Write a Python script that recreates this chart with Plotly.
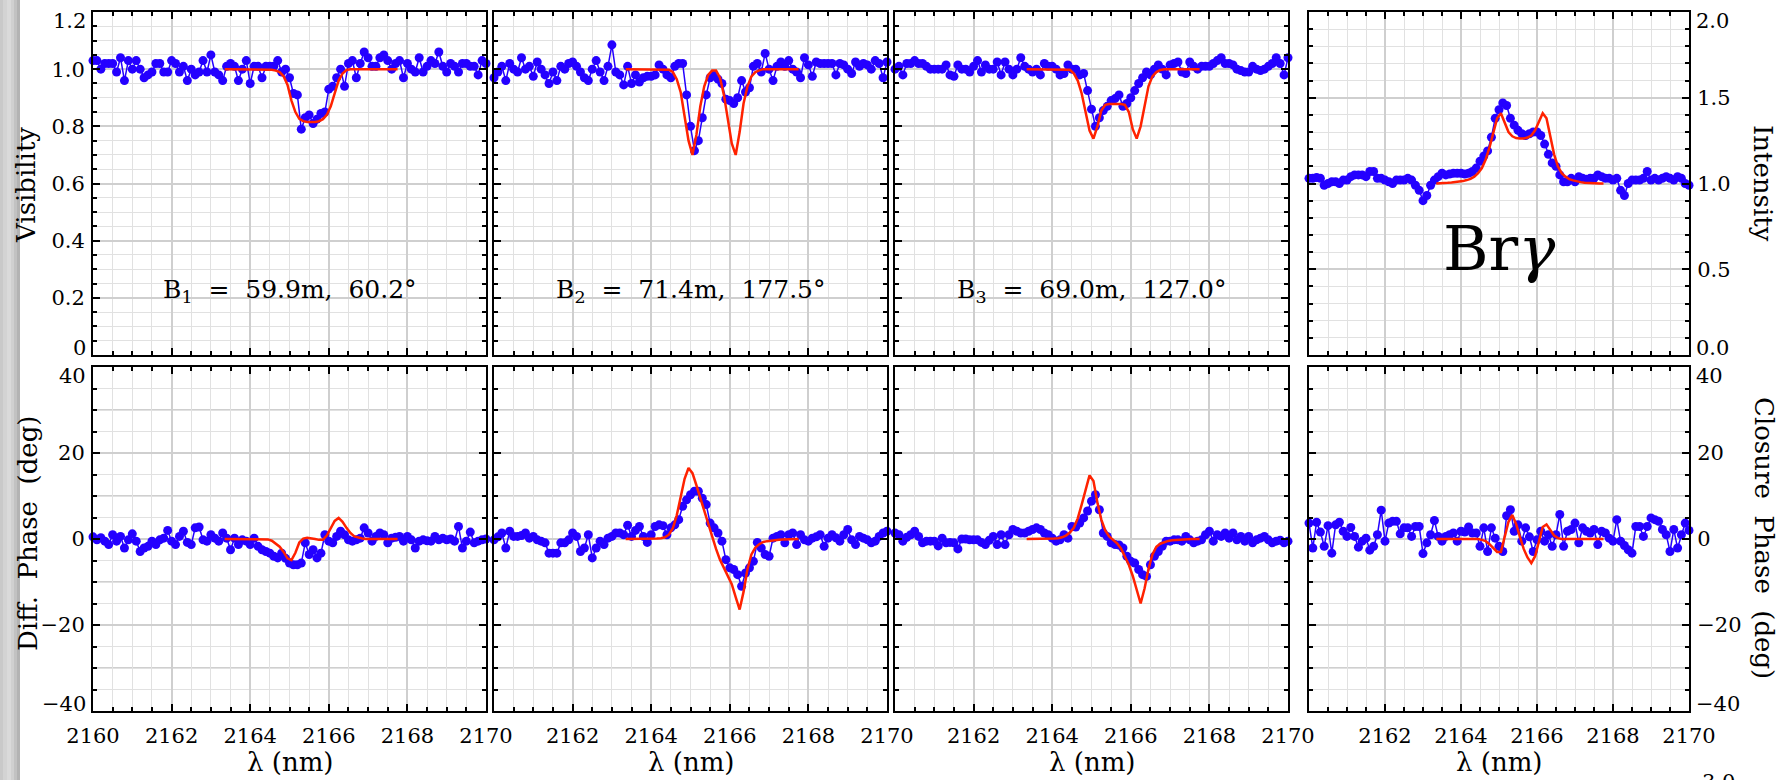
import plotly.graph_objects as go

# ---------------- data ----------------
LAM = [round(2160 + 0.1 * i, 2) for i in range(101)]          # observed wavelength grid (nm)
LAM_MODEL = [round(2163.35 + 0.1 * k, 2) for k in range(45)]  # model wavelength grid (nm)

VIS_B1 = [1.03, 1.03, 1.00, 1.02, 1.02, 1.02, 0.99, 1.04, 0.96, 1.03,
          1.00, 1.03, 1.00, 0.97, 0.98, 0.99, 1.02, 1.02, 0.99, 0.99,
          1.03, 1.02, 0.99, 1.01, 0.96, 1.00, 0.98, 0.99, 1.03, 0.99,
          1.05, 0.99, 0.98, 0.96, 1.01, 1.02, 1.01, 0.96, 1.00, 1.03,
          0.95, 1.01, 1.01, 0.97, 1.01, 1.01, 1.01, 1.03, 0.99, 1.00,
          0.97, 0.915, 0.91, 0.79, 0.83, 0.84, 0.81, 0.825, 0.845, 0.85,
          0.93, 0.94, 0.97, 1.00, 0.94, 1.02, 1.03, 0.97, 1.02, 1.06,
          1.04, 1.01, 1.01, 1.04, 1.05, 1.03, 1.00, 1.02, 1.03, 0.97,
          1.02, 1.00, 0.99, 1.04, 0.99, 1.01, 1.03, 1.02, 1.06, 1.01,
          0.99, 1.02, 1.01, 0.99, 1.02, 1.02, 1.01, 1.01, 0.98, 1.03, 1.02]
VIS_B2 = [0.97, 0.99, 1.01, 0.96, 1.02, 1.00, 0.99, 1.04, 1.00, 1.01,
          0.975, 1.025, 1.00, 0.98, 0.95, 0.99, 0.96, 1.01, 1.00, 1.02,
          1.025, 1.01, 0.99, 0.97, 0.96, 1.00, 1.03, 0.99, 0.96, 1.01,
          1.085, 0.99, 0.98, 0.945, 1.01, 0.95, 0.98, 0.955, 0.97, 0.975,
          0.975, 0.98, 1.015, 1.00, 0.98, 0.97, 1.01, 1.02, 1.02, 0.91,
          0.80, 0.715, 0.75, 0.83, 0.91, 0.97, 0.98, 0.965, 0.95, 0.895,
          0.89, 0.88, 0.90, 0.96, 0.92, 0.935, 1.01, 1.02, 0.99, 1.055,
          1.00, 0.96, 1.01, 1.025, 1.01, 1.03, 1.00, 0.99, 0.97, 1.04,
          1.015, 0.975, 1.025, 1.02, 1.02, 1.02, 1.02, 0.98, 1.02, 1.015,
          1.00, 0.985, 1.025, 1.01, 1.02, 1.015, 1.00, 1.03, 1.02, 0.97, 1.025]
VIS_B3 = [1.00, 1.01, 0.98, 1.02, 1.02, 1.03, 1.02, 1.02, 1.01, 1.00,
          1.00, 1.00, 1.00, 1.015, 0.98, 0.975, 1.015, 1.00, 1.00, 0.99,
          1.01, 1.03, 0.99, 1.015, 1.00, 1.00, 1.025, 0.98, 1.025, 1.00,
          0.98, 1.00, 1.04, 1.01, 1.00, 0.99, 1.00, 0.98, 1.02, 1.01,
          1.01, 1.00, 0.98, 0.985, 1.015, 1.00, 1.00, 0.98, 0.985, 0.925,
          0.86, 0.80, 0.83, 0.855, 0.87, 0.89, 0.897, 0.91, 0.87, 0.88,
          0.90, 0.925, 0.95, 0.97, 0.99, 0.98, 1.00, 1.015, 1.00, 0.98,
          1.015, 1.02, 1.025, 0.99, 0.985, 1.025, 1.01, 1.00, 1.01, 1.01,
          1.01, 1.02, 1.03, 1.04, 1.02, 1.02, 1.015, 1.00, 0.995, 0.99,
          0.99, 1.01, 1.00, 0.995, 1.00, 1.01, 1.02, 1.04, 1.02, 0.98, 1.04]
INTENSITY = [1.03, 1.03, 1.035, 1.03, 0.99, 1.00, 1.01, 1.01, 1.00, 1.02,
             1.02, 1.04, 1.05, 1.05, 1.05, 1.04, 1.07, 1.07, 1.03, 1.03,
             1.02, 1.01, 1.00, 1.02, 1.02, 1.02, 1.03, 1.02, 0.99, 0.96,
             0.90, 0.93, 0.99, 1.02, 1.04, 1.06, 1.05, 1.055, 1.06, 1.06,
             1.06, 1.055, 1.06, 1.07, 1.09, 1.13, 1.16, 1.19, 1.27, 1.38,
             1.43, 1.47, 1.455, 1.38, 1.34, 1.31, 1.29, 1.28, 1.29, 1.30,
             1.30, 1.28, 1.23, 1.17, 1.12, 1.10, 1.05, 1.01, 1.01, 1.03,
             1.01, 1.04, 1.03, 1.025, 1.03, 1.03, 1.05, 1.04, 1.03, 1.03,
             1.02, 1.03, 0.96, 0.93, 1.00, 1.02, 1.02, 1.02, 1.03, 1.07,
             1.02, 1.03, 1.02, 1.03, 1.04, 1.03, 1.02, 1.04, 1.03, 1.00, 0.99]
DPHI_B1 = [0.5, -0.2, 0.3, -0.5, -1.3, 1.0, -0.5, 0.6, -2.1, -0.2,
           1.2, -0.5, -2.9, -2.1, -1.7, -0.5, -1.3, -0.2, 0.2, 2.0,
           -0.5, -1.3, 0.6, 1.8, -0.8, -1.3, 2.6, 2.8, -0.2, -0.5,
           1.0, 0.2, -0.5, 1.4, 0.2, -2.5, 0.2, -1.3, -0.2, -0.5,
           -1.3, 0.2, -1.7, -2.5, -2.9, -3.3, -4.0, -4.4, -3.3, -4.5,
           -5.6, -6.0, -6.0, -5.6, -0.9, -3.6, -2.5, -4.4, -3.3, 1.0,
           -0.5, -0.9, 0.6, 1.8, 1.0, -0.2, -0.5, -0.2, 0.2, 2.6,
           1.4, -0.5, 0.6, 1.4, 1.0, -0.9, 0.2, 0.4, 0.6, -0.5,
           0.6, -0.2, -2.1, -0.5, -0.2, -0.4, -0.5, 0.6, -0.2, 0.2,
           -0.2, 0.0, -0.5, 2.9, -2.1, -0.5, 1.6, -0.9, -0.5, -0.2, 0.0]
DPHI_B2 = [-0.2, 0.5, 1.4, -2.1, 1.8, 0.6, 0.6, 0.8, 1.4, 0.2,
           0.6, -0.2, -0.5, -0.9, -3.3, -3.3, -3.3, -0.9, -0.9, -0.2,
           1.4, 0.6, -2.9, -2.1, 1.0, -4.4, -2.1, -0.5, -1.3, 0.2,
           0.6, 1.4, 1.4, 1.0, 3.2, 0.6, 2.0, 2.9, 0.6, -0.8,
           1.0, 2.9, 3.3, 3.1, 1.0, 2.6, 3.3, 4.5, 7.6, 9.1,
           10.3, 11.1, 11.1, 9.5, 8.0, 3.7, 2.6, 1.4, -0.5, -4.8,
           -6.7, -7.1, -8.3, -11.0, -7.9, -6.7, -5.2, -0.8, -2.1, -3.6,
           -4.0, 0.2, 0.6, 1.0, -0.9, 1.0, 1.4, -1.3, 1.0, -0.2,
           -0.5, 0.2, 0.5, 1.0, -1.7, 0.2, 1.0, 0.3, -0.5, 1.0,
           2.2, -0.2, -1.3, 0.6, 0.2, -0.2, -0.9, -0.5, 0.6, 1.4, 1.8]
DPHI_B3 = [1.4, 1.0, -0.5, 0.4, 1.0, 1.8, 0.6, -0.9, -0.5, -0.5,
           -0.5, -1.6, 0.2, -0.9, -0.8, -0.9, -2.3, 0.0, 0.0, -0.2,
           -0.2, -0.2, -0.8, -1.3, -0.3, 0.6, -1.3, 1.0, -1.3, 1.0,
           2.2, 1.8, 1.4, 1.4, 1.8, 2.2, 2.6, 2.2, 1.4, 1.0,
           0.2, -0.5, -0.2, 1.0, 0.2, 2.9, 2.8, 3.7, 4.9, 6.5,
           8.8, 10.3, 6.8, 1.4, 0.6, -0.9, -1.3, -1.4, -2.1, -4.0,
           -5.2, -5.6, -7.1, -8.3, -8.7, -6.0, -4.0, -2.9, -1.7, -0.5,
           -0.5, -0.2, -0.2, -0.5, 0.6, -0.2, -0.9, -0.5, -0.2, 1.0,
           1.8, -0.5, 1.0, 0.6, 1.4, 0.2, 1.4, -0.2, 0.6, -0.5,
           0.6, -0.9, -0.2, 0.2, 0.6, -0.2, -0.9, -0.5, -0.3, -0.9, -0.5]
CPHI = [3.7, -2.1, 3.9, 1.6, -1.7, 3.1, -3.3, 3.3, 3.9, 1.8,
        0.6, 2.7, 0.6, -1.9, -0.5, 0.2, -2.6, -1.7, 1.0, 6.7,
        -0.5, 3.7, 4.1, 4.1, 1.2, 2.6, 2.6, 0.6, 2.9, 2.9,
        -3.4, -0.9, 1.0, 4.3, 0.6, -0.5, 0.6, 1.0, 1.4, -0.5,
        1.8, 1.6, 2.8, 1.4, 1.4, -1.7, 2.6, -2.9, 2.6, 0.2,
        -1.7, -2.9, 5.4, 6.8, 1.8, 3.3, -0.5, 2.6, 0.5, -2.9,
        -0.2, 1.8, -0.5, 1.0, -1.7, 1.0, 5.7, -1.7, 1.8, 2.2,
        3.7, -0.9, 2.6, 1.8, 1.4, 2.2, -1.3, 1.8, 1.4, 0.2,
        -0.5, 4.5, -0.5, -1.5, -2.5, -3.3, 2.9, 2.9, 0.6, 2.9,
        4.9, 4.5, 4.1, 2.2, 1.0, -2.9, 2.2, -2.1, 1.0, 3.7, 2.0]

MODEL_VIS_B1 = [1.0] * 12 + [0.998, 0.995, 0.99, 0.975, 0.945, 0.89, 0.85, 0.826, 0.818,
                             0.815, 0.815, 0.815, 0.818, 0.825, 0.84, 0.87, 0.915, 0.96,
                             0.985, 0.997] + [1.0] * 13
MODEL_VIS_B2 = [1.0] * 11 + [0.998, 0.99, 0.965, 0.92, 0.84, 0.75, 0.70, 0.77, 0.87, 0.94,
                             0.98, 0.995, 0.995, 0.97, 0.91, 0.83, 0.74, 0.70, 0.78, 0.88,
                             0.94, 0.975, 0.99, 0.996] + [1.0] * 10
MODEL_VIS_B3 = [1.0] * 11 + [0.998, 0.985, 0.96, 0.915, 0.845, 0.785, 0.757, 0.80, 0.855,
                             0.875, 0.878, 0.878, 0.878, 0.878, 0.875, 0.85, 0.79, 0.757,
                             0.80, 0.875, 0.94, 0.975, 0.99, 0.997] + [1.0] * 10
MODEL_INTENSITY = [1.0, 1.0, 1.002, 1.004, 1.006, 1.008, 1.01, 1.014, 1.02, 1.027,
                   1.04, 1.06, 1.09, 1.14, 1.21, 1.30, 1.38, 1.41, 1.35, 1.30,
                   1.275, 1.265, 1.262, 1.262, 1.268, 1.28, 1.31, 1.36, 1.41, 1.38,
                   1.27, 1.17, 1.10, 1.06, 1.04, 1.025, 1.018, 1.012, 1.008, 1.005,
                   1.003, 1.002, 1.001, 1.0, 1.0]
MODEL_DPHI_B1 = [0.0] * 11 + [-0.1, -0.4, -1.0, -1.8, -3.0, -4.5, -4.9, -3.2, -0.8, 0.1,
                              0.3, 0.2, 0.0, -0.2, -0.2, 0.8, 2.6, 4.2, 4.9, 4.0,
                              2.6, 1.4, 0.6, 0.3, 0.1] + [0.0] * 9
MODEL_DPHI_B2 = [0.0] * 7 + [0.05, 0.1, 0.2, 0.4, 1.0, 2.5, 5.5, 10.2, 14.0, 16.5,
                             15.3, 12.5, 9.5, 6.6, 3.7, 0.6, -2.3, -4.8, -6.6, -8.4,
                             -10.5, -13.5, -16.4, -12.3, -7.0, -3.6, -2.0, -1.2, -0.7, -0.5,
                             -0.35, -0.25, -0.2, -0.1, -0.05, 0.0, 0.0, 0.0]
MODEL_DPHI_B3 = [0.0] * 7 + [0.1, 0.2, 0.4, 0.8, 1.5, 2.6, 4.8, 8.0, 11.5, 14.8,
                             13.5, 8.5, 4.5, 2.0, 0.6, -0.2, -1.0, -2.2, -4.0, -6.0,
                             -8.6, -12.0, -15.0, -11.5, -7.0, -3.6, -1.8, -1.1, -0.7, -0.45,
                             -0.3, -0.2, -0.15, -0.1, -0.05, 0.0, 0.0, 0.0]
MODEL_CPHI = [0.0] * 11 + [0.0, -0.2, -0.5, -1.2, -2.1, -3.0, -3.0, 0.5, 4.0, 5.6,
                           3.5, 0.5, -2.3, -4.3, -5.6, -4.0, -0.5, 2.8, 3.4, 2.0,
                           0.8, 0.2] + [0.0] * 12

for arr in (VIS_B1, VIS_B2, VIS_B3, INTENSITY, DPHI_B1, DPHI_B2, DPHI_B3, CPHI):
    assert len(arr) == len(LAM), len(arr)
for arr in (MODEL_VIS_B1, MODEL_VIS_B2, MODEL_VIS_B3, MODEL_INTENSITY,
            MODEL_DPHI_B1, MODEL_DPHI_B2, MODEL_DPHI_B3, MODEL_CPHI):
    assert len(arr) == len(LAM_MODEL), len(arr)

BASELINES = ["B<sub>1</sub>\u00a0 =\u00a0 59.9m,\u00a0 60.2°",
             "B<sub>2</sub>\u00a0 =\u00a0 71.4m,\u00a0 177.5°",
             "B<sub>3</sub>\u00a0 =\u00a0 69.0m,\u00a0 127.0°"]
X_TICKS = [2160, 2162, 2164, 2166, 2168, 2170]
VIS_TICKS = [0.2, 0.4, 0.6, 0.8, 1.0]
VIS_ENDS = [(0, "0"), (1.2, "1.2")]
INT_TICKS = [0.5, 1.0, 1.5]
INT_ENDS = [(0.0, "0.0"), (2.0, "2.0")]
PHASE_TICKS = [-20, 0, 20]
PHASE_ENDS = [(-40, "\u221240"), (40, "40")]
PHASE_GRID10 = [-30, -10, 10, 30]

# ---------------- layout geometry ----------------
W, H = 1783, 780
FONT = "DejaVu Serif"
BLUE = "#2400ff"
RED = "#ff2200"
COLS = [(93, 486), (494, 887), (895, 1288), (1309, 1689)]
ROWS = [(12, 355), (367, 711)]
TICK_FONT = dict(family=FONT, size=21, color="black")


def px(x):
    return x / W


def py(y):
    return 1 - y / H


fig = go.Figure()

panels = [
    (0, 0, VIS_B1, MODEL_VIS_B1), (0, 1, VIS_B2, MODEL_VIS_B2),
    (0, 2, VIS_B3, MODEL_VIS_B3), (0, 3, INTENSITY, MODEL_INTENSITY),
    (1, 0, DPHI_B1, MODEL_DPHI_B1), (1, 1, DPHI_B2, MODEL_DPHI_B2),
    (1, 2, DPHI_B3, MODEL_DPHI_B3), (1, 3, CPHI, MODEL_CPHI),
]

axis_common = dict(showline=True, linecolor="black", linewidth=2, mirror="ticks",
                   ticks="inside", tickcolor="black", tickwidth=2, ticklen=7,
                   showgrid=True, gridcolor="#cfcfcf", gridwidth=2, zeroline=False,
                   automargin=False, tickfont=TICK_FONT)

shapes = []
annotations = []

for n, (r, c, obs, mod) in enumerate(panels, start=1):
    xa = "x" if n == 1 else f"x{n}"
    ya = "y" if n == 1 else f"y{n}"
    fig.add_trace(go.Scatter(x=LAM, y=obs, mode="lines+markers", xaxis=xa, yaxis=ya,
                             line=dict(color=BLUE, width=1.5),
                             marker=dict(color=BLUE, size=9), cliponaxis=False,
                             showlegend=False))
    fig.add_trace(go.Scatter(x=LAM_MODEL, y=mod, mode="lines", xaxis=xa, yaxis=ya,
                             line=dict(color=RED, width=2.5), cliponaxis=False,
                             showlegend=False))

    x0, x1 = COLS[c]
    y0, y1 = ROWS[r]
    xt = X_TICKS if c == 0 else X_TICKS[1:]
    xcfg = dict(axis_common, domain=[px(x0), px(x1)], anchor=ya, range=[2160, 2170],
                tickmode="array", tickvals=xt, ticktext=[str(v) for v in xt],
                showticklabels=(r == 1), ticklabelstandoff=5,
                minor=dict(dtick=0.5, tick0=2160, ticks="inside", ticklen=4,
                           tickcolor="black", tickwidth=1.5, showgrid=True,
                           gridcolor="#e1e1e1", gridwidth=1))
    if r == 0 and c < 3:
        tv, ends, rng, mdt = VIS_TICKS, VIS_ENDS, [0, 1.2], 0.05
        tt = [f"{v:.1f}" for v in tv]
    elif r == 0:
        tv, ends, rng, mdt = INT_TICKS, INT_ENDS, [0, 2.0], 0.1
        tt = [f"{v:.1f}" for v in tv]
    else:
        tv, ends, rng, mdt = PHASE_TICKS, PHASE_ENDS, [-40, 40], 5
        tt = [("\u2212" + str(-v)) if v < 0 else str(v) for v in tv]
        for g in PHASE_GRID10:
            shapes.append(dict(type="line", xref=xa, yref=ya, x0=2160, x1=2170, y0=g, y1=g,
                               line=dict(color="#cfcfcf", width=2), layer="below"))
    labelled = (c == 0 or c == 3)
    ycfg = dict(axis_common, domain=[py(y1), py(y0)], anchor=xa, range=rng,
                tickmode="array", tickvals=tv, ticktext=tt,
                side="right" if c == 3 else "left",
                showticklabels=labelled, ticklabelstandoff=2,
                minor=dict(dtick=mdt, tick0=rng[0], ticks="inside", ticklen=4,
                           tickcolor="black", tickwidth=1.5, showgrid=True,
                           gridcolor="#e1e1e1", gridwidth=1))
    fig.layout["xaxis" if n == 1 else f"xaxis{n}"] = xcfg
    fig.layout["yaxis" if n == 1 else f"yaxis{n}"] = ycfg

    # end-of-range labels are kept inside the frame height (IDL style)
    if labelled:
        for val, txt in ends:
            top_end = (val == rng[1])
            ypix = (y0 + 9) if top_end else (y1 - 7)
            if c == 0:
                annotations.append(dict(text=txt, x=px(x0 - 5), y=py(ypix), xanchor="right"))
            else:
                annotations.append(dict(text=txt, x=px(x1 + 5), y=py(ypix), xanchor="left"))

for a in annotations:
    a.update(xref="paper", yref="paper", showarrow=False, yanchor="middle", font=TICK_FONT)

# baseline labels
for c, txt in enumerate(BASELINES):
    xa = "x" if c == 0 else f"x{c + 1}"
    ya = "y" if c == 0 else f"y{c + 1}"
    annotations.append(dict(text=txt, x=2165.0, y=0.225, xref=xa, yref=ya,
                            showarrow=False, xanchor="center", yanchor="middle",
                            font=dict(family=FONT, size=25, color="black")))
annotations.append(dict(text="Br<i>γ</i>", x=2165.0, y=0.62, xref="x4", yref="y4",
                        showarrow=False, xanchor="center", yanchor="middle",
                        font=dict(family=FONT, size=62, color="black")))
# axis titles
title_font = dict(family=FONT, size=26, color="black")
titles = [
    dict(text="Visibility", x=px(26), y=py(185), textangle=-90),
    dict(text="Diff.\u00a0 Phase\u00a0 (deg)", x=px(28), y=py(534), textangle=-90),
    dict(text="Intensity", x=px(1763), y=py(183), textangle=90),
    dict(text="Closure\u00a0 Phase\u00a0 (deg)", x=px(1764), y=py(538), textangle=90),
]
for (x0, x1) in COLS:
    titles.append(dict(text="λ (nm)", x=px((x0 + x1) / 2), y=py(762)))
for a in titles:
    a.update(xref="paper", yref="paper", showarrow=False, xanchor="center",
             yanchor="middle", font=title_font)
annotations += titles
# fragment of the next figure peeking in at the bottom
annotations.append(dict(text="3.0", x=px(1718), y=py(768), xref="paper", yref="paper",
                        showarrow=False, xanchor="center", yanchor="top",
                        font=dict(family=FONT, size=21, color="black")))

# page shadow strip on the left edge
strip = [("#c9c9c9", 0, 3), ("#d3d3d3", 3, 7), ("#dadada", 7, 11), ("#d0d0d0", 11, 14),
         ("#c2c2c2", 14, 17), ("#b3b3b3", 17, 20)]
shapes += [dict(type="rect", xref="paper", yref="paper", x0=px(a), x1=px(b), y0=0, y1=1,
                fillcolor=col, line=dict(width=0), layer="below") for col, a, b in strip]

fig.update_layout(width=W, height=H,
                  margin=dict(l=0, r=0, t=0, b=0, pad=0, autoexpand=False),
                  paper_bgcolor="white", plot_bgcolor="white",
                  annotations=annotations, shapes=shapes,
                  font=dict(family=FONT, color="black"))

fig.write_html("out.html")
